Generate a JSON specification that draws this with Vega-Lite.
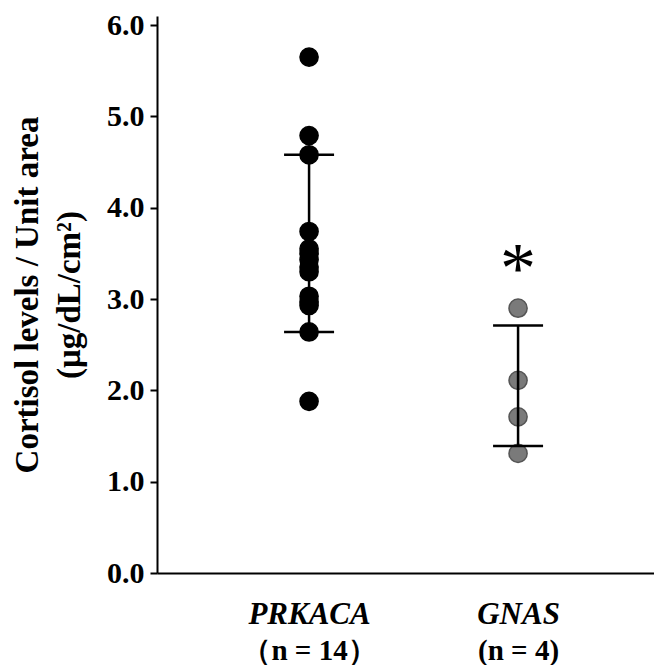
{
  "$schema": "https://vega.github.io/schema/vega-lite/v6.json",
  "autosize": {"type": "none"},
  "width": 497,
  "height": 557,
  "padding": {"left": 157, "top": 16, "right": 0, "bottom": 92},
  "background": "white",
  "config": {
    "view": {"stroke": null},
    "font": "Liberation Serif",
    "axis": {"grid": false, "domainColor": "black", "domainWidth": 2, "tickColor": "black", "tickWidth": 2, "tickSize": 7, "labelColor": "black", "titleColor": "black", "labelFont": "Liberation Serif", "titleFont": "Liberation Serif", "labelFontWeight": "bold", "titleFontWeight": "bold"}
  },
  "datasets": {
    "points": [
      {"group": "PRKACA", "value": 5.65},
      {"group": "PRKACA", "value": 4.79},
      {"group": "PRKACA", "value": 4.58},
      {"group": "PRKACA", "value": 3.74},
      {"group": "PRKACA", "value": 3.55},
      {"group": "PRKACA", "value": 3.50},
      {"group": "PRKACA", "value": 3.43},
      {"group": "PRKACA", "value": 3.35},
      {"group": "PRKACA", "value": 3.30},
      {"group": "PRKACA", "value": 3.03},
      {"group": "PRKACA", "value": 2.97},
      {"group": "PRKACA", "value": 2.93},
      {"group": "PRKACA", "value": 2.64},
      {"group": "PRKACA", "value": 1.88},
      {"group": "GNAS", "value": 2.90},
      {"group": "GNAS", "value": 2.11},
      {"group": "GNAS", "value": 1.71},
      {"group": "GNAS", "value": 1.31}
    ],
    "errors": [
      {"group": "PRKACA", "lo": 2.64, "hi": 4.58},
      {"group": "GNAS", "lo": 1.39, "hi": 2.71}
    ],
    "sig": [
      {"group": "GNAS", "y": 3.43, "label": "*"}
    ]
  },
  "resolve": {"axis": {"x": "independent"}},
  "layer": [
    {
      "data": {"name": "points"},
      "mark": {"type": "point", "filled": true, "size": 330, "strokeWidth": 1.5, "opacity": 1},
      "encoding": {
        "x": {
          "field": "group", "type": "nominal",
          "scale": {"type": "point", "domain": ["PRKACA", "GNAS"], "padding": 0.689, "align": 0.528},
          "axis": {"title": null, "ticks": false, "labelAngle": 0, "labelFontSize": 31, "labelFontStyle": "italic", "labelPadding": 50, "labelBaseline": "alphabetic", "domainWidth": 2}
        },
        "y": {
          "field": "value", "type": "quantitative",
          "scale": {"domain": [0, 6.1], "nice": false, "zero": true},
          "axis": {
            "values": [0, 1, 2, 3, 4, 5, 6],
            "format": ".1f",
            "labelFontSize": 30,
            "labelPadding": 6,
            "title": ["Cortisol levels / Unit area", "(μg/dL/cm²)"],
            "titleFontSize": 33,
            "titleLineHeight": 42,
            "titlePadding": 20
          }
        },
        "fill": {"field": "group", "type": "nominal", "scale": {"domain": ["PRKACA", "GNAS"], "range": ["#000000", "#7a7a7a"]}, "legend": null},
        "stroke": {"field": "group", "type": "nominal", "scale": {"domain": ["PRKACA", "GNAS"], "range": ["#000000", "#555555"]}, "legend": null}
      }
    },
    {
      "data": {"name": "errors"},
      "mark": {"type": "rule", "color": "black", "strokeWidth": 2.5, "opacity": 1},
      "encoding": {
        "x": {"field": "group", "type": "nominal", "axis": null},
        "y": {"field": "lo", "type": "quantitative"},
        "y2": {"field": "hi"}
      }
    },
    {
      "data": {"name": "errors"},
      "mark": {"type": "tick", "color": "black", "size": 50, "thickness": 2.5, "opacity": 1},
      "encoding": {
        "x": {"field": "group", "type": "nominal", "axis": null},
        "y": {"field": "lo", "type": "quantitative"}
      }
    },
    {
      "data": {"name": "errors"},
      "mark": {"type": "tick", "color": "black", "size": 50, "thickness": 2.5, "opacity": 1},
      "encoding": {
        "x": {"field": "group", "type": "nominal", "axis": null},
        "y": {"field": "hi", "type": "quantitative"}
      }
    },
    {
      "data": {"name": "sig"},
      "mark": {"type": "text", "font": "Liberation Serif", "fontSize": 72, "baseline": "middle", "dy": 10, "color": "black"},
      "encoding": {
        "x": {"field": "group", "type": "nominal", "axis": null},
        "y": {"field": "y", "type": "quantitative"},
        "text": {"field": "label"}
      }
    },
    {
      "data": {"name": "errors"},
      "mark": {"type": "point", "opacity": 0},
      "encoding": {
        "x": {
          "field": "group", "type": "nominal",
          "axis": {"orient": "bottom", "title": null, "domain": false, "ticks": false, "labelAngle": 0, "labelFontSize": 29, "labelPadding": 86, "labelBaseline": "alphabetic",
            "labelExpr": "datum.value == 'PRKACA' ? '（n = 14）' : '(n = 4)'"}
        },
        "y": {"field": "lo", "type": "quantitative"}
      }
    }
  ]
}
